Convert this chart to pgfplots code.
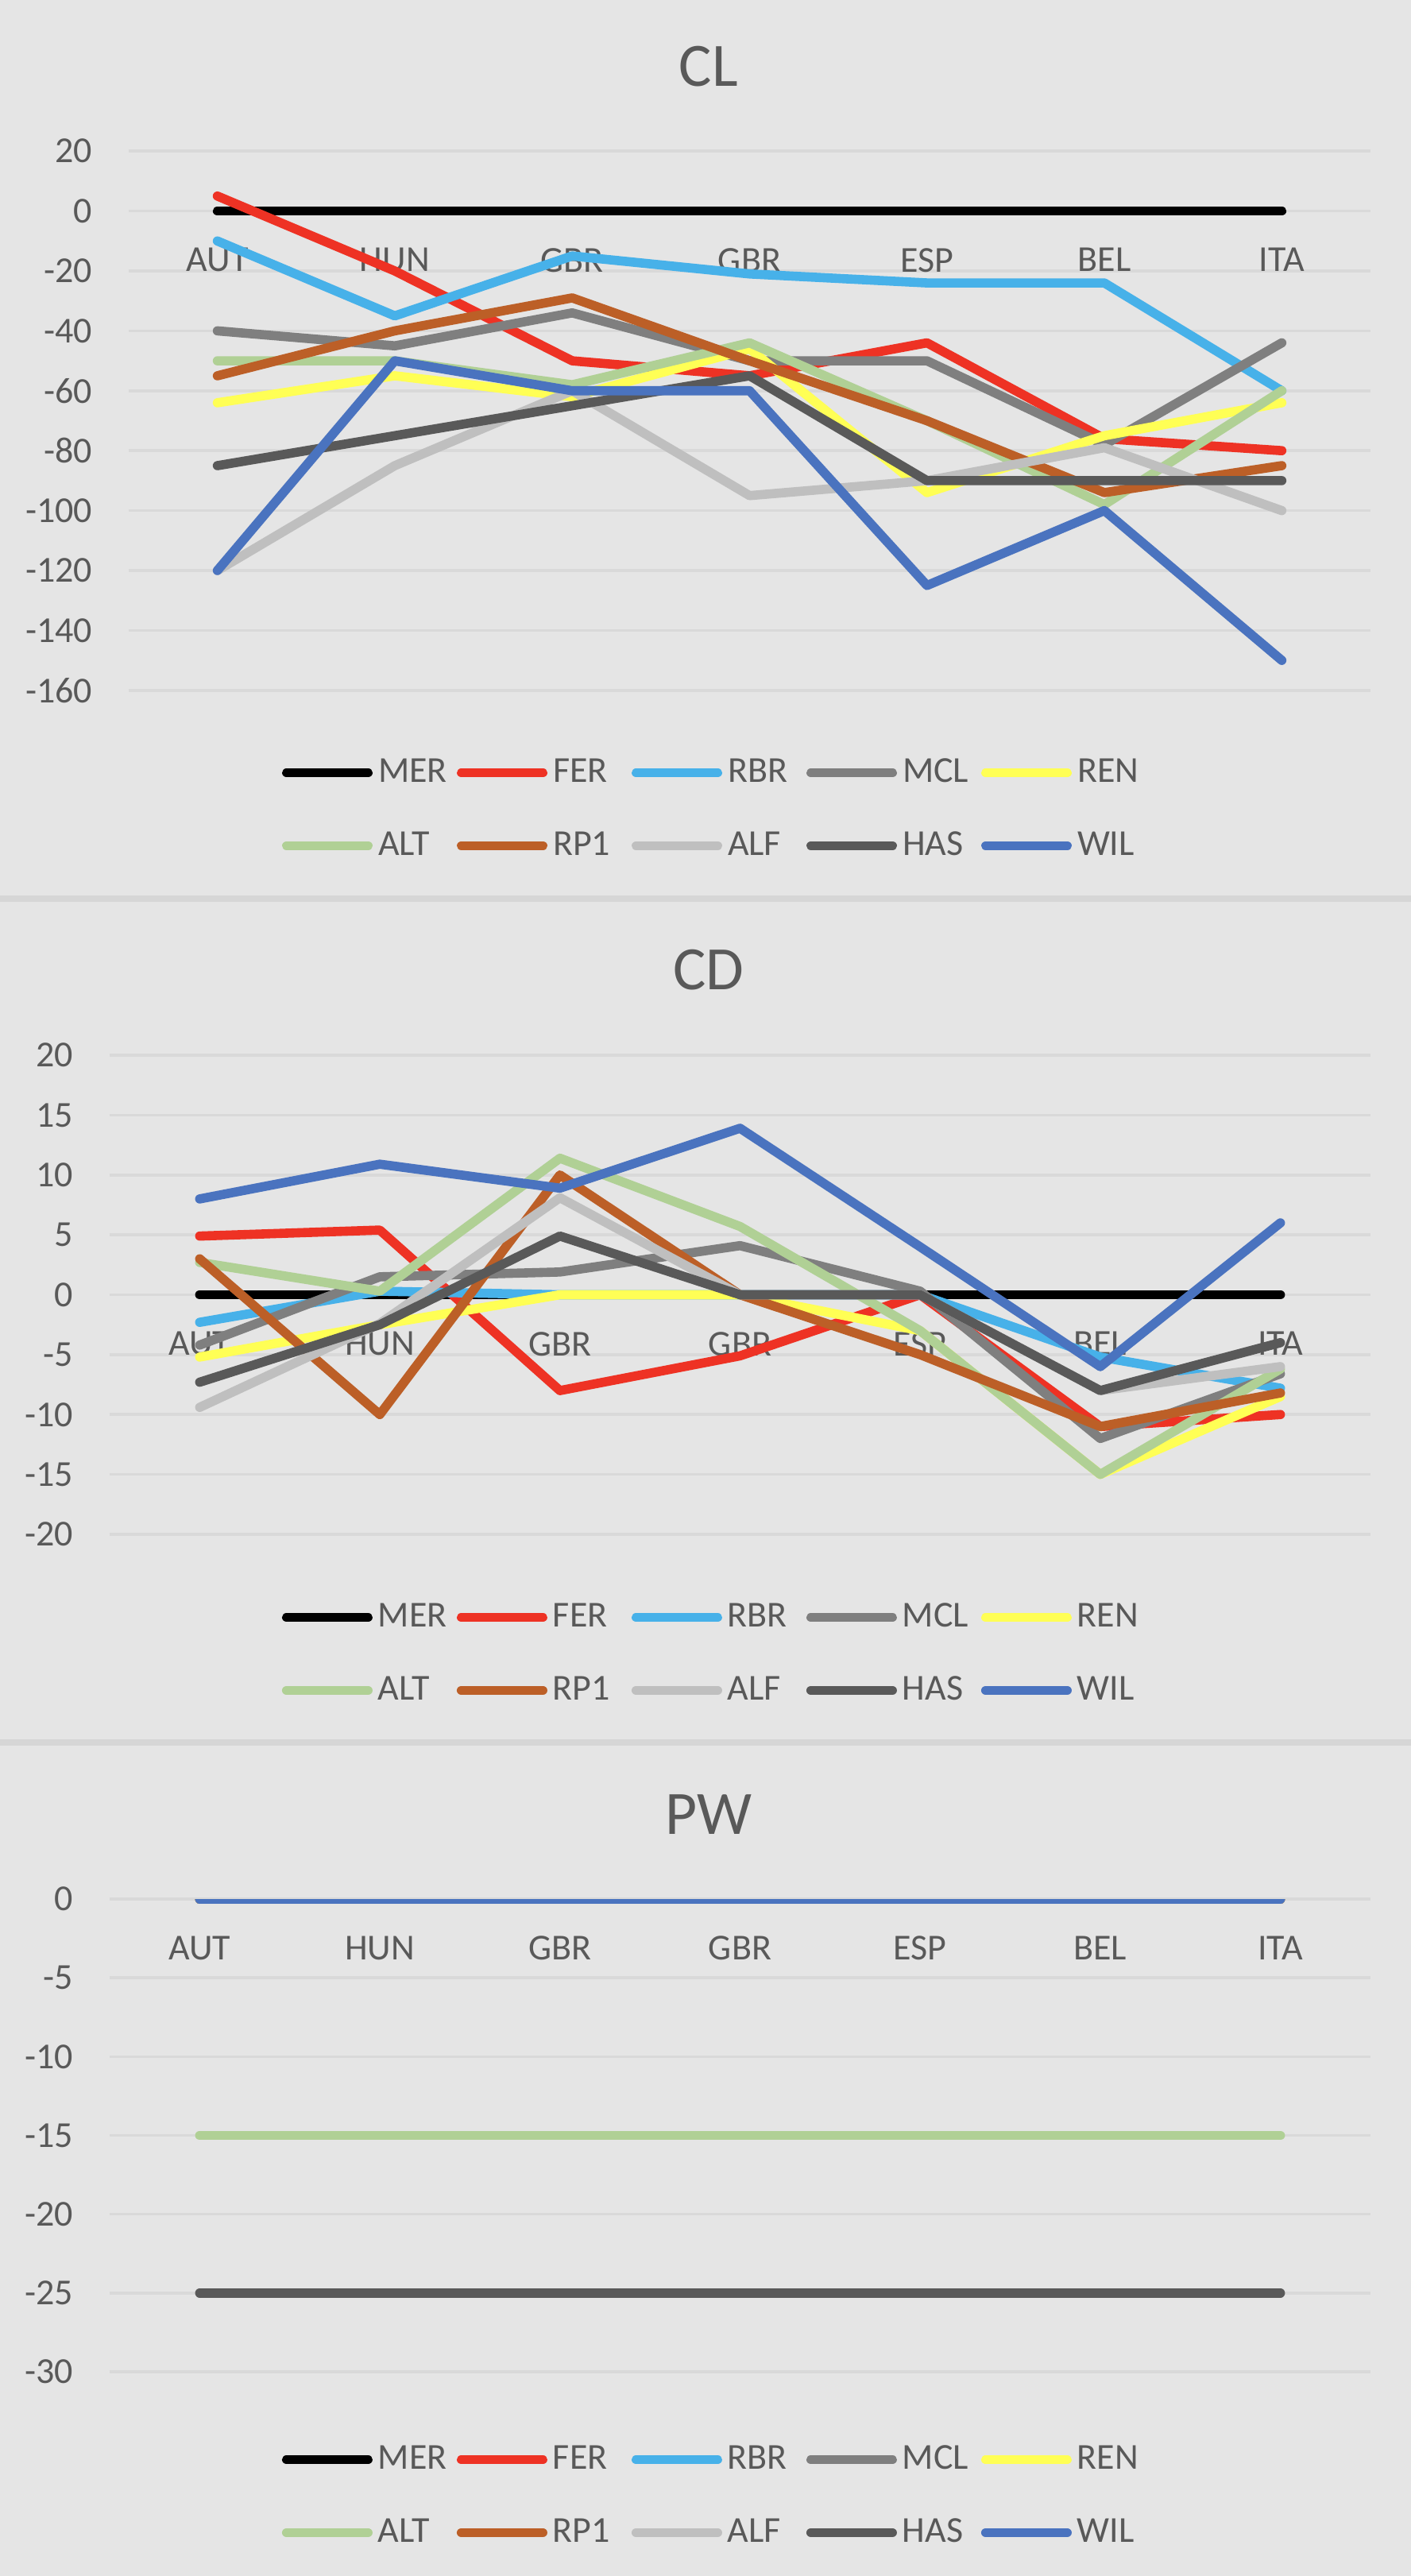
\documentclass[border=0pt]{standalone}
\usepackage{pgfplots}
\pgfplotsset{compat=1.18}
\usepackage{fontspec}
\setmainfont{Carlito}
\definecolor{bgc}{HTML}{E5E5E5}
\definecolor{sepc}{HTML}{D6D6D6}
\definecolor{gridc}{HTML}{D9D9D9}
\definecolor{txt}{HTML}{595959}
\definecolor{cMER}{HTML}{000000}
\definecolor{cFER}{HTML}{EE3224}
\definecolor{cRBR}{HTML}{47B1E9}
\definecolor{cMCL}{HTML}{7F7F7F}
\definecolor{cREN}{HTML}{FFFF55}
\definecolor{cALT}{HTML}{B0D095}
\definecolor{cRP1}{HTML}{BC5F27}
\definecolor{cALF}{HTML}{BFBFBF}
\definecolor{cHAS}{HTML}{595959}
\definecolor{cWIL}{HTML}{4A73BF}
\newcommand\legtxt[1]{\makebox[24.75pt][l]{#1}}
\pgfplotsset{
  panel/.style={
    scale only axis, anchor=north west,
    xmin=-0.5, xmax=6.5,
    axis x line=middle, axis y line=left,
    axis line style={draw=none},
    hide obscured x ticks=false, hide obscured y ticks=false,
    major tick length=0pt,
    xtick={0,1,2,3,4,5,6},
    xticklabels={AUT,HUN,GBR,GBR,ESP,BEL,ITA},
    ymajorgrids, grid style={gridc, line width=0.9pt},
    tick label style={font=\fontsize{11.5}{13}\selectfont, text=txt, inner sep=0pt},
    xticklabel style={anchor=north, yshift=-11.5pt},
    yticklabel style={anchor=east, xshift=-11.25pt},
    title style={font=\fontsize{19.4}{22}\selectfont, text=txt, anchor=center},
    every axis plot/.append style={line width=2.9pt, line cap=round, line join=round, mark=none},
    legend columns=5,
    legend image code/.code={\draw[##1, line width=2.9pt, line cap=round] (1.45pt,0pt) -- (27.05pt,0pt);},
    legend cell align=left,
    legend style={draw=none, fill=none, anchor=west, inner sep=0pt, outer sep=0pt,
      font=\fontsize{11.5}{13}\selectfont, text=txt,
      nodes={inner sep=0pt},
      column sep=0pt, row sep=14pt,
      /tikz/every odd column/.append style={column sep=1.75pt}},
  },
}
\begin{document}
\begin{tikzpicture}
\fill[bgc] (0,0) rectangle (444pt,-810.5pt);
\fill[sepc] (0,-281.75pt) rectangle (444pt,-283.75pt);
\fill[sepc] (0,-547.25pt) rectangle (444pt,-549.25pt);

% ---------------- CL ----------------
\begin{axis}[panel,
  at={(40.5pt,-47.55pt)}, width=390.75pt, height=169.65pt,
  ymin=-160, ymax=20,
  ytick={-160,-140,-120,-100,-80,-60,-40,-20,0,20},
  yticklabels={-160,-140,-120,-100,-80,-60,-40,-20,0,20},
  title={CL}, title style={at={(axis description cs:0.467,1.121)}},
  legend style={at={(axis description cs:0.1235,-0.2206)}},
]
\addplot[cMER] coordinates {(0,0) (1,0) (2,0) (3,0) (4,0) (5,0) (6,0)};
\addplot[cFER] coordinates {(0,5) (1,-20) (2,-50) (3,-55) (4,-44) (5,-76) (6,-80)};
\addplot[cRBR] coordinates {(0,-10) (1,-35) (2,-15) (3,-21) (4,-24) (5,-24) (6,-60)};
\addplot[cMCL] coordinates {(0,-40) (1,-45) (2,-34) (3,-50) (4,-50) (5,-78) (6,-44)};
\addplot[cREN] coordinates {(0,-64) (1,-55) (2,-62) (3,-46) (4,-94) (5,-75) (6,-64)};
\addplot[cALT] coordinates {(0,-50) (1,-50) (2,-58) (3,-44) (4,-70) (5,-98) (6,-60)};
\addplot[cRP1] coordinates {(0,-55) (1,-40) (2,-29) (3,-50) (4,-70) (5,-94) (6,-85)};
\addplot[cALF] coordinates {(0,-120) (1,-85) (2,-60) (3,-95) (4,-90) (5,-79) (6,-100)};
\addplot[cHAS] coordinates {(0,-85) (1,-75) (2,-65) (3,-55) (4,-90) (5,-90) (6,-90)};
\addplot[cWIL] coordinates {(0,-120) (1,-50) (2,-60) (3,-60) (4,-125) (5,-100) (6,-150)};
\legend{\legtxt{MER},\legtxt{FER},\legtxt{RBR},\legtxt{MCL},\legtxt{REN},\legtxt{ALT},\legtxt{RP1},\legtxt{ALF},\legtxt{HAS},\legtxt{WIL}}
\end{axis}

% ---------------- CD ----------------
\begin{axis}[panel,
  at={(34.5pt,-332pt)}, width=396.75pt, height=150.75pt,
  ymin=-20, ymax=20,
  ytick={-20,-15,-10,-5,0,5,10,15,20},
  yticklabels={-20,-15,-10,-5,0,5,10,15,20},
  title={CD}, title style={at={(axis description cs:0.475,1.138)}},
  legend style={at={(axis description cs:0.1367,-0.2496)}},
]
\addplot[cMER] coordinates {(0,0) (1,0) (2,0) (3,0) (4,0) (5,0) (6,0)};
\addplot[cFER] coordinates {(0,4.9) (1,5.4) (2,-8) (3,-5.1) (4,0) (5,-11) (6,-10)};
\addplot[cRBR] coordinates {(0,-2.3) (1,0.3) (2,0) (3,0) (4,0) (5,-5.2) (6,-7.8)};
\addplot[cMCL] coordinates {(0,-4.2) (1,1.5) (2,1.9) (3,4.1) (4,0.3) (5,-12) (6,-6.6)};
\addplot[cREN] coordinates {(0,-5.2) (1,-2.5) (2,0) (3,0) (4,-3) (5,-15) (6,-8.5)};
\addplot[cALT] coordinates {(0,2.7) (1,0.3) (2,11.4) (3,5.7) (4,-3) (5,-15) (6,-6.2)};
\addplot[cRP1] coordinates {(0,3) (1,-10) (2,10) (3,0) (4,-5) (5,-11) (6,-8.2)};
\addplot[cALF] coordinates {(0,-9.4) (1,-2.4) (2,8.1) (3,0) (4,0) (5,-8) (6,-6)};
\addplot[cHAS] coordinates {(0,-7.3) (1,-2.5) (2,4.9) (3,0) (4,0) (5,-8) (6,-4)};
\addplot[cWIL] coordinates {(0,8) (1,10.9) (2,8.9) (3,13.9) (4,4) (5,-6) (6,6)};
\legend{\legtxt{MER},\legtxt{FER},\legtxt{RBR},\legtxt{MCL},\legtxt{REN},\legtxt{ALT},\legtxt{RP1},\legtxt{ALF},\legtxt{HAS},\legtxt{WIL}}
\end{axis}

% ---------------- PW ----------------
\begin{axis}[panel,
  at={(34.5pt,-597.5pt)}, width=396.75pt, height=148.75pt,
  ymin=-30, ymax=0,
  ytick={-30,-25,-20,-15,-10,-5,0},
  yticklabels={-30,-25,-20,-15,-10,-5,0},
  title={PW}, title style={at={(axis description cs:0.475,1.138)}},
  legend style={at={(axis description cs:0.1367,-0.263)}},
]
\addplot[cMER] coordinates {(0,0) (1,0) (2,0) (3,0) (4,0) (5,0) (6,0)};
\addplot[cFER] coordinates {(0,0) (1,0) (2,0) (3,0) (4,0) (5,0) (6,0)};
\addplot[cRBR] coordinates {(0,0) (1,0) (2,0) (3,0) (4,0) (5,0) (6,0)};
\addplot[cMCL] coordinates {(0,0) (1,0) (2,0) (3,0) (4,0) (5,0) (6,0)};
\addplot[cREN] coordinates {(0,0) (1,0) (2,0) (3,0) (4,0) (5,0) (6,0)};
\addplot[cALT] coordinates {(0,-15) (1,-15) (2,-15) (3,-15) (4,-15) (5,-15) (6,-15)};
\addplot[cRP1] coordinates {(0,0) (1,0) (2,0) (3,0) (4,0) (5,0) (6,0)};
\addplot[cALF] coordinates {(0,0) (1,0) (2,0) (3,0) (4,0) (5,0) (6,0)};
\addplot[cHAS] coordinates {(0,-25) (1,-25) (2,-25) (3,-25) (4,-25) (5,-25) (6,-25)};
\addplot[cWIL] coordinates {(0,0) (1,0) (2,0) (3,0) (4,0) (5,0) (6,0)};
\legend{\legtxt{MER},\legtxt{FER},\legtxt{RBR},\legtxt{MCL},\legtxt{REN},\legtxt{ALT},\legtxt{RP1},\legtxt{ALF},\legtxt{HAS},\legtxt{WIL}}
\end{axis}

\pgfresetboundingbox
\path[use as bounding box] (0,0) rectangle (444pt,-810.5pt);
\end{tikzpicture}
\end{document}
